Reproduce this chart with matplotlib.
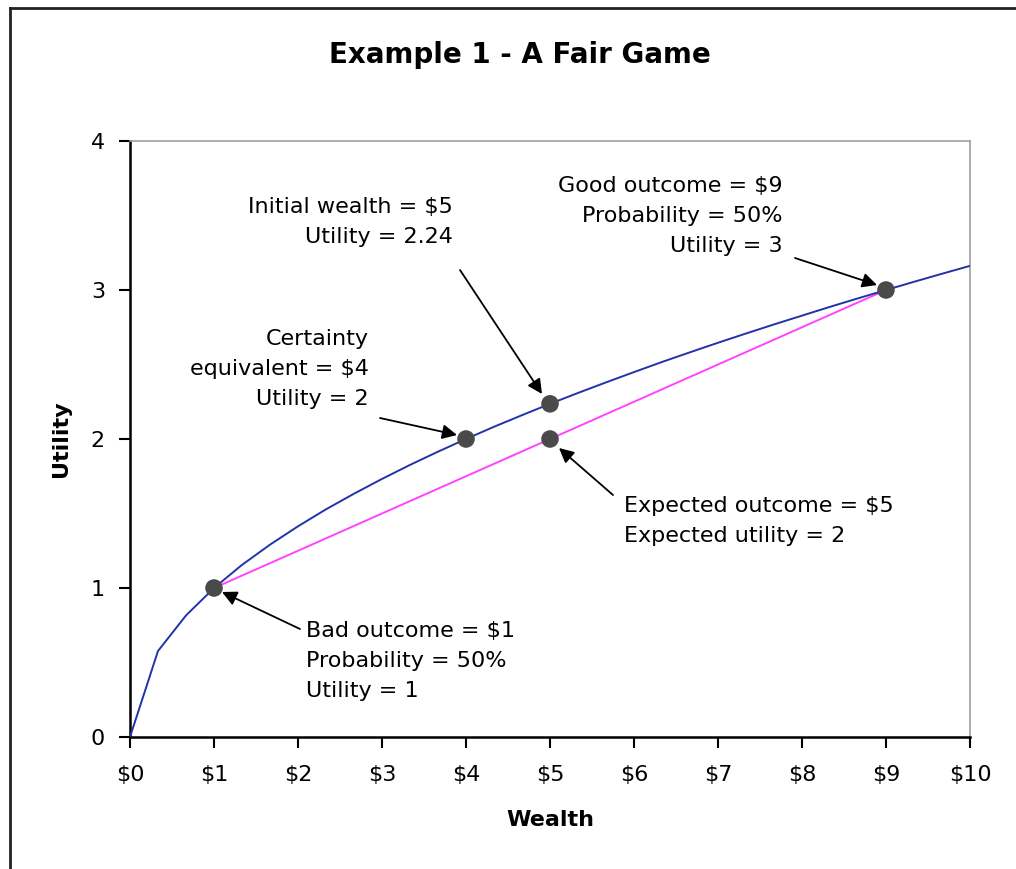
import matplotlib
matplotlib.use("Agg")
import matplotlib.pyplot as plt
from matplotlib.lines import Line2D

# ---- data ----
wealth = [0, 0.333, 0.667, 1.0, 1.333, 1.667, 2.0, 2.333, 2.667, 3.0, 3.333, 3.667,
          4.0, 4.333, 4.667, 5.0, 5.333, 5.667, 6.0, 6.333, 6.667, 7.0, 7.333, 7.667,
          8.0, 8.333, 8.667, 9.0, 9.333, 9.667, 10.0]
utility = [0, 0.577, 0.816, 1.0, 1.155, 1.291, 1.414, 1.528, 1.633, 1.732, 1.826, 1.915,
           2.0, 2.082, 2.160, 2.236, 2.309, 2.380, 2.449, 2.517, 2.582, 2.646, 2.708, 2.769,
           2.828, 2.887, 2.944, 3.0, 3.055, 3.109, 3.162]
chord_x = [1, 9]
chord_y = [1, 3]
point_x = [1, 4, 5, 5, 9]
point_y = [1, 2, 2.236, 2, 3]
xticks = [0, 1, 2, 3, 4, 5, 6, 7, 8, 9, 10]
xticklabels = ["$0", "$1", "$2", "$3", "$4", "$5", "$6", "$7", "$8", "$9", "$10"]
yticks = [0, 1, 2, 3, 4]

W, H = 1016, 869
fig = plt.figure(figsize=(W / 100, H / 100), dpi=100)
fig.patch.set_facecolor("white")

L, R, T, B = 130, 970, 141, 737
ax = fig.add_axes([L / W, 1 - B / H, (R - L) / W, (B - T) / H])

def px(x, y):
    """pixel -> data"""
    return (x - L) / (R - L) * 10, (B - y) / (B - T) * 4

ax.plot(wealth, utility, color="#2233aa", lw=1.4, zorder=3)
ax.plot(chord_x, chord_y, color="#ff44ff", lw=1.4, zorder=2)
ax.scatter(point_x, point_y, s=160, color="#4a4a4a", zorder=5, edgecolors="none")

ax.set_xlim(0, 10)
ax.set_ylim(0, 4)
ax.set_xticks(xticks)
ax.set_xticklabels(xticklabels)
ax.set_yticks(yticks)
ax.tick_params(axis="both", direction="out", length=8, width=1.5, labelsize=16, color="black")
ax.tick_params(axis="x", pad=12)
ax.tick_params(axis="y", pad=10)
for s in ["left", "bottom"]:
    ax.spines[s].set_color("black")
    ax.spines[s].set_linewidth(1.8)
for s in ["top", "right"]:
    ax.spines[s].set_color("#a0a0a0")
    ax.spines[s].set_linewidth(1.2)

ax.set_xlabel("Wealth", fontsize=16, fontweight="bold", labelpad=18)
ax.set_ylabel("Utility", fontsize=16, fontweight="bold", labelpad=14)
fig.text(520 / W, 1 - 55 / H, "Example 1 - A Fair Game", ha="center", va="center",
         fontsize=20, fontweight="bold")

fs = 16
txt_kw = dict(fontsize=fs, linespacing=1.65, zorder=6)

def label(xp, yp, s, ha):
    x, y = px(xp, yp)
    ax.text(x, y, s, ha=ha, va="center", **txt_kw)

def arrow(tail, tip):
    ax.annotate("", xy=px(*tip), xytext=px(*tail), xycoords="data", textcoords="data",
                arrowprops=dict(arrowstyle="-|>", color="black", lw=1.3,
                                mutation_scale=22, shrinkA=0, shrinkB=0), zorder=6)

label(453, 222, "Initial wealth = $5\nUtility = 2.24", "right")
arrow((460, 270), (542, 394))
label(369, 369, "Certainty\nequivalent = $4\nUtility = 2", "right")
arrow((380, 418), (457, 435))
label(783, 216, "Good outcome = $9\nProbability = 50%\nUtility = 3", "right")
arrow((795, 258), (877, 285))
label(624, 521, "Expected outcome = $5\nExpected utility = 2", "left")
arrow((613, 495), (559, 448))
label(306, 661, "Bad outcome = $1\nProbability = 50%\nUtility = 1", "left")
arrow((300, 629), (222, 592))

# outer frame
fig.add_artist(Line2D([10 / W, 10 / W], [0, 1 - 8 / H], transform=fig.transFigure,
                      color="#222222", lw=2))
fig.add_artist(Line2D([10 / W, 1], [1 - 8 / H, 1 - 8 / H], transform=fig.transFigure,
                      color="#222222", lw=2))

fig.savefig("out.png", dpi=100, facecolor="white")
